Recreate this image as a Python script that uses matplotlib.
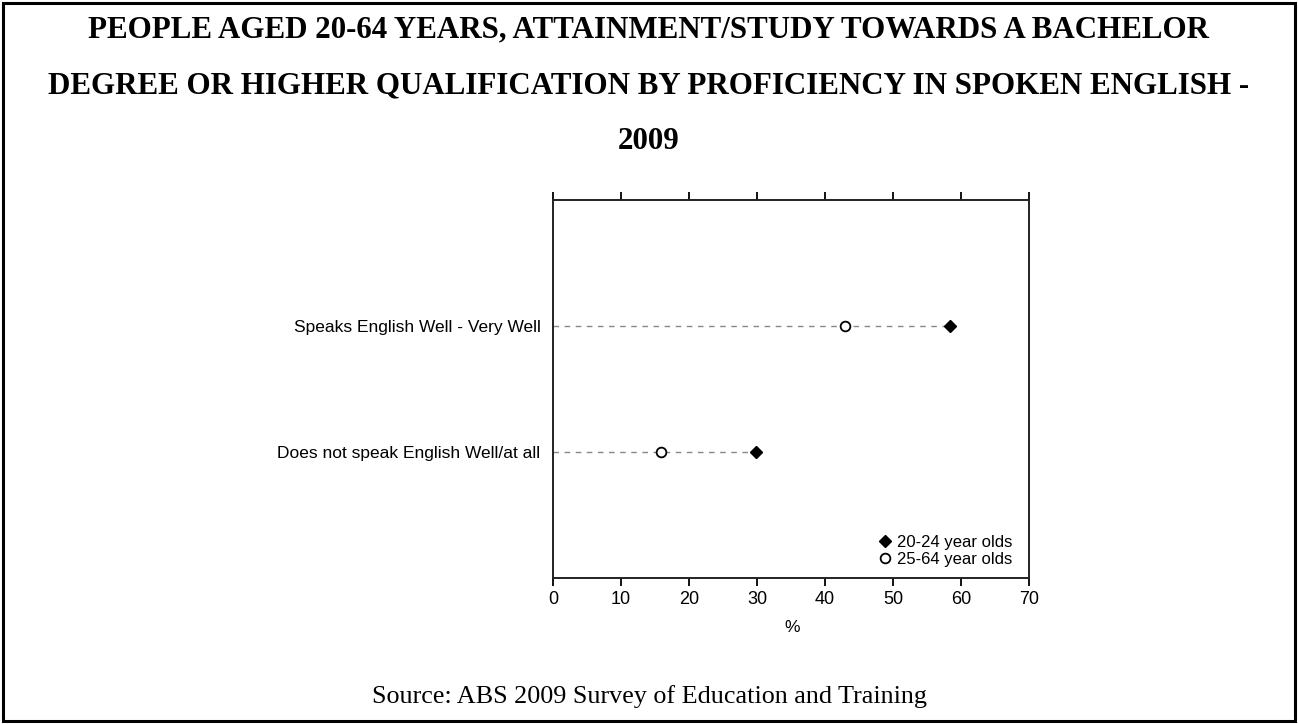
import matplotlib
matplotlib.use("Agg")
import matplotlib.pyplot as plt
from matplotlib.patches import Rectangle

categories = ["Speaks English Well - Very Well", "Does not speak English Well/at all"]
series_names = ["20-24 year olds", "25-64 year olds"]
values_20_24 = [58.4, 29.9]
values_25_64 = [42.9, 15.9]
x_ticks = [0, 10, 20, 30, 40, 50, 60, 70]

title_lines = ["PEOPLE AGED 20-64 YEARS, ATTAINMENT/STUDY TOWARDS A BACHELOR",
               "DEGREE OR HIGHER QUALIFICATION BY PROFICIENCY IN SPOKEN ENGLISH -",
               "2009"]
source = "Source: ABS 2009 Survey of Education and Training"

W, H = 1298, 724
fig = plt.figure(figsize=(W / 100, H / 100), dpi=100)
fig.patch.set_facecolor("white")

sans = ["Liberation Sans Narrow", "Liberation Sans", "DejaVu Sans"]
serif = ["Liberation Serif", "DejaVu Serif"]

ax = fig.add_axes([553 / W, 1 - 578 / H, 476 / W, 378 / H])
ypos = [2, 1]

for y, a, b in zip(ypos, values_20_24, values_25_64):
    ax.plot([0, max(a, b)], [y, y], color="#888888", lw=1.0, ls=(0, (4, 4)), zorder=1)

ax.plot(values_20_24, ypos, ls="none", marker="D", ms=6.5, mfc="black", mec="black",
        label=series_names[0], zorder=3)
ax.plot(values_25_64, ypos, ls="none", marker="o", ms=7, mfc="white", mec="black", mew=1.3,
        label=series_names[1], zorder=3)

ax.set_xlim(0, 70)
ax.set_ylim(0, 3)
ax.set_xticks(x_ticks)
ax.set_xticklabels([str(t) for t in x_ticks], fontsize=13, family=sans)
ax.tick_params(axis="x", which="both", direction="out", length=6, width=1.3,
               top=True, bottom=True, labeltop=False, pad=3)
ax.set_yticks(ypos)
ax.set_yticklabels(categories, fontsize=12.5, family=sans)
ax.tick_params(axis="y", length=0, pad=9)
for s in ax.spines.values():
    s.set_linewidth(1.4)
    s.set_color("#222222")
ax.set_xlabel("%", fontsize=12.5, family=sans)
ax.xaxis.set_label_coords((792 - 553) / 476, -(627 - 578) / 378)
ax.xaxis.label.set_va("center")

leg = ax.legend(loc="lower right", bbox_to_anchor=(1 - 6 / 476, 0), frameon=False,
                prop={"family": sans, "size": 12},
                handlelength=0.6, handletextpad=0.4, labelspacing=0.15,
                borderaxespad=0.25)

y_baselines = [37, 93, 149]
for line, yp in zip(title_lines, y_baselines):
    fig.text(0.5, 1 - yp / H, line, ha="center", va="baseline", fontsize=22.3,
             fontweight="bold", family=serif)
fig.text(0.5, 1 - 703 / H, source, ha="center", va="baseline", fontsize=18.8, family=serif)

fig.add_artist(Rectangle((3 / W, 3 / H), 1 - 6 / W, 1 - 6 / H, transform=fig.transFigure,
                         fill=False, lw=2.2, edgecolor="black"))

fig.savefig("out.png", dpi=100, facecolor="white")
